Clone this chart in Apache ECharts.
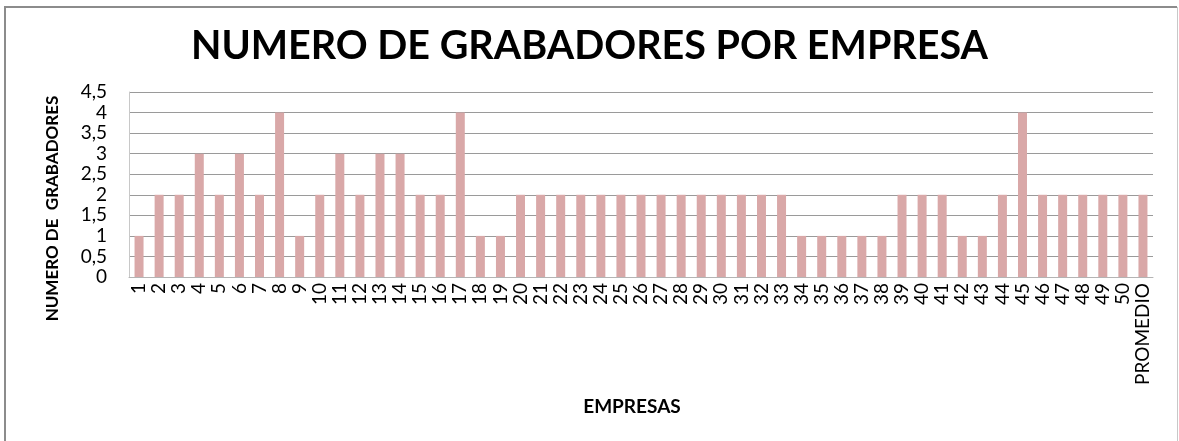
<!DOCTYPE html>
<html>
<head>
<meta charset="UTF-8">
<title>Numero de grabadores por empresa</title>
<script type="text/javascript" src="https://cdn.jsdelivr.net/npm/echarts@6/dist/echarts.min.js"></script>
<style>
	html, body { margin: 0; padding: 0; background: #fff; }
</style>
</head>
<body>
	<div id="main" style="width: 1179px;height:441px;"></div>
</body>
<script type="text/javascript">
	// datos
	var empresas = ['1','2','3','4','5','6','7','8','9','10',
		'11','12','13','14','15','16','17','18','19','20',
		'21','22','23','24','25','26','27','28','29','30',
		'31','32','33','34','35','36','37','38','39','40',
		'41','42','43','44','45','46','47','48','49','50','PROMEDIO'];
	var grabadores = [1,2,2,3,2,3,2,4,1,2,
		3,2,3,3,2,2,4,1,1,2,
		2,2,2,2,2,2,2,2,2,2,
		2,2,2,1,1,1,1,1,2,2,
		2,1,1,2,4,2,2,2,2,2,2];

	var fuente = 'Lato';
	var myChart = echarts.init(document.getElementById('main'));

	var option = {
		animation : false,
		backgroundColor : '#fff',
		title : {
			text : 'NUMERO DE GRABADORES POR EMPRESA',
			left : 'center',
			top : 21,
			textStyle : { fontFamily : fuente, fontSize : 39.5, fontWeight : 'bold', color : '#000' }
		},
		graphic : [
			// marco exterior
			{ type : 'line', shape : { x1 : 5, y1 : 7, x2 : 1177, y2 : 7 }, style : { stroke : '#8c8c8c', lineWidth : 2 } },
			{ type : 'line', shape : { x1 : 5, y1 : 6, x2 : 5, y2 : 441 }, style : { stroke : '#8c8c8c', lineWidth : 2 } },
			{ type : 'line', shape : { x1 : 1177.5, y1 : 7, x2 : 1177.5, y2 : 441 }, style : { stroke : '#c8c8c8', lineWidth : 1 } }
		],
		grid : {
			left : 129,
			right : 26,
			top : 92,
			bottom : 164
		},
		xAxis : {
			type : 'category',
			data : empresas,
			name : 'EMPRESAS',
			nameLocation : 'middle',
			nameGap : 120,
			nameTextStyle : { fontFamily : fuente, fontSize : 19, fontWeight : 'bold', color : '#000', padding : [0, 18, 0, 0] },
			axisLine : { lineStyle : { color : '#b4b4b4' } },
			axisTick : { show : false },
			axisLabel : { interval : 0, rotate : 90, margin : 6, fontFamily : fuente, fontSize : 19, color : '#000' }
		},
		yAxis : {
			type : 'value',
			min : 0,
			max : 4.5,
			interval : 0.5,
			name : 'NUMERO DE  GRABADORES',
			nameLocation : 'middle',
			nameGap : 68,
			nameTextStyle : { fontFamily : fuente, fontSize : 17, fontWeight : 'bold', color : '#000', padding : [0, 48, 0, 0] },
			axisLine : { show : true, lineStyle : { color : '#c8c8c8' } },
			axisTick : { show : false },
			splitLine : { lineStyle : { color : '#9a9a9a' } },
			axisLabel : {
				margin : 22,
				fontFamily : fuente,
				fontSize : 19,
				color : '#000',
				formatter : function(v) { return String(v).replace('.', ','); }
			}
		},
		series : [{
			type : 'bar',
			data : grabadores,
			barWidth : 9,
			itemStyle : { color : '#d9a8a8' }
		}]
	};
	myChart.setOption(option);
</script>
</html>
